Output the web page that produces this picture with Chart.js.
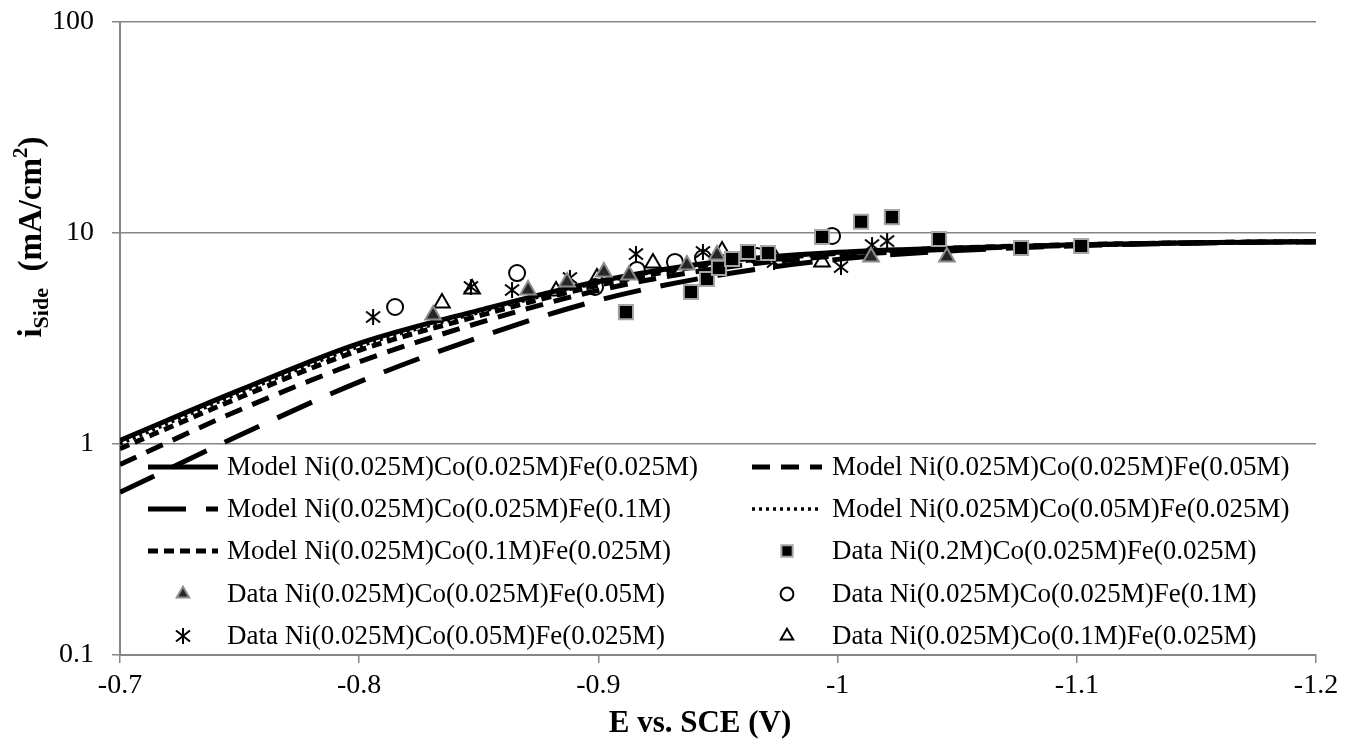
<!DOCTYPE html>
<html>
<head>
<meta charset="utf-8">
<script src="https://cdn.jsdelivr.net/npm/chart.js@4.4.0/dist/chart.umd.min.js"></script>
<style>
  html, body { margin: 0; padding: 0; background: #fff; }
  #grafico { display: block; }
</style>
</head>
<body>
<canvas id="grafico" width="1345" height="742"></canvas>
<script>
// Curvas del modelo (E vs. SCE en V, corriente lateral en mA/cm2)
const ejeModelo = [-0.7, -0.75, -0.8, -0.85, -0.9, -0.95, -1.0, -1.05, -1.1, -1.15, -1.2];
const modeloFe025 = [1.04, 1.80, 3.0, 4.3, 5.9, 7.3, 8.1, 8.5, 8.8, 9.0, 9.1];
const modeloFe05 = [0.80, 1.45, 2.45, 3.75, 5.35, 6.8, 7.8, 8.4, 8.75, 9.0, 9.1];
const modeloFe1 = [0.59, 1.10, 1.97, 3.2, 4.8, 6.3, 7.5, 8.25, 8.7, 8.95, 9.1];
const modeloCo05 = [1.0, 1.74, 2.9, 4.2, 5.8, 7.25, 8.05, 8.5, 8.8, 9.0, 9.1];
const modeloCo1 = [0.95, 1.66, 2.78, 4.05, 5.65, 7.15, 8.0, 8.5, 8.8, 9.0, 9.1];

// Datos experimentales
const ni2E = [-0.9115, -0.9387, -0.9454, -0.9504, -0.9559, -0.9625, -0.9709, -0.9935, -1.0098, -1.0227, -1.0424, -1.0767, -1.1018];
const ni2I = [4.22, 5.25, 6.05, 6.83, 7.53, 8.13, 8.04, 9.57, 11.3, 11.9, 9.37, 8.49, 8.68];
const fe05E = [-0.8309, -0.8706, -0.8869, -0.9023, -0.9128, -0.937, -0.9496, -1.014, -1.0457];
const fe05I = [4.09, 5.37, 5.86, 6.53, 6.32, 7.05, 7.86, 7.70, 7.70];
const fe1E = [-0.815, -0.866, -0.8986, -0.9161, -0.932, -0.9437, -0.9663, -0.9977];
const fe1I = [4.46, 6.46, 5.55, 6.68, 7.29, 7.61, 7.78, 9.68];
const co05E = [-0.8058, -0.8467, -0.8639, -0.8881, -0.9157, -0.9437, -0.9734, -1.0014, -1.0144, -1.0207];
const co05I = [4.0, 5.55, 5.37, 6.12, 7.95, 8.13, 7.29, 6.90, 8.77, 9.16];
const co1E = [-0.8346, -0.8472, -0.8823, -0.8994, -0.9228, -0.9517, -0.9734, -0.9935];
const co1I = [4.66, 5.43, 5.31, 6.12, 7.21, 8.22, 7.78, 7.29];

// Ejes
const marcasX = [-0.7, -0.8, -0.9, -1.0, -1.1, -1.2];
const marcasY = [0.1, 1, 10, 100];
const etiquetasY = ['0.1', '1', '10', '100'];

const FUENTE = "'Liberation Serif', 'Times New Roman', serif";
const GRIS = '#868686';

function puntos(xs, ys) {
  return xs.map((x, i) => ({ x: x, y: ys[i] }));
}

// Marcador asterisco (tipo Excel)
function crearAsterisco() {
  const c = document.createElement('canvas');
  c.width = 20; c.height = 20;
  const g = c.getContext('2d');
  g.strokeStyle = '#000';
  g.lineWidth = 2;
  g.beginPath();
  g.moveTo(10, 2); g.lineTo(10, 18);
  g.moveTo(3, 4.5); g.lineTo(17, 15.5);
  g.moveTo(3, 15.5); g.lineTo(17, 4.5);
  g.stroke();
  return c;
}
const asterisco = crearAsterisco();

function linea(label, ys, dash, ancho, orden) {
  return {
    label: label,
    data: puntos(ejeModelo, ys),
    showLine: true,
    borderColor: '#000',
    backgroundColor: '#000',
    borderWidth: ancho,
    borderDash: dash,
    pointRadius: 0,
    pointHoverRadius: 0,
    cubicInterpolationMode: 'monotone',
    order: orden
  };
}

function marcador(label, xs, ys, estilo, radio, relleno, borde, anchoBorde) {
  return {
    label: label,
    data: puntos(xs, ys),
    showLine: false,
    pointStyle: estilo,
    pointRadius: radio,
    pointHoverRadius: radio,
    backgroundColor: relleno,
    borderColor: borde,
    borderWidth: anchoBorde,
    pointBorderWidth: anchoBorde,
    order: 1
  };
}

const datasets = [
  linea('Model Ni(0.025M)Co(0.025M)Fe(0.025M)', modeloFe025, [], 5, 2),
  linea('Model Ni(0.025M)Co(0.025M)Fe(0.05M)', modeloFe05, [18, 11], 5, 4),
  linea('Model Ni(0.025M)Co(0.025M)Fe(0.1M)', modeloFe1, [38, 20], 5, 5),
  linea('Model Ni(0.025M)Co(0.05M)Fe(0.025M)', modeloCo05, [3, 4], 3.5, 3),
  linea('Model Ni(0.025M)Co(0.1M)Fe(0.025M)', modeloCo1, [10, 6], 5, 3),
  marcador('Data Ni(0.2M)Co(0.025M)Fe(0.025M)', ni2E, ni2I, 'rect', 10, '#000', '#a6a6a6', 2),
  marcador('Data Ni(0.025M)Co(0.025M)Fe(0.05M)', fe05E, fe05I, 'triangle', 9, '#262626', '#8c8c8c', 2),
  marcador('Data Ni(0.025M)Co(0.025M)Fe(0.1M)', fe1E, fe1I, 'circle', 8, 'rgba(0,0,0,0)', '#000', 2),
  marcador('Data Ni(0.025M)Co(0.05M)Fe(0.025M)', co05E, co05I, asterisco, 10, '#000', '#000', 2),
  marcador('Data Ni(0.025M)Co(0.1M)Fe(0.025M)', co1E, co1I, 'triangle', 9, 'rgba(0,0,0,0)', '#000', 2)
];

// Leyenda dentro del area del grafico, en dos columnas
const leyendaManual = {
  id: 'leyendaManual',
  afterDraw(chart) {
    const ctx = chart.ctx;
    const filas = [467, 509, 551, 594, 636];
    const cols = [{ x0: 148, x1: 218, tx: 227 }, { x0: 752, x1: 822, tx: 832 }];
    chart.data.datasets.forEach((ds, i) => {
      const y = filas[Math.floor(i / 2)];
      const col = cols[i % 2];
      ctx.save();
      if (ds.showLine) {
        ctx.strokeStyle = ds.borderColor;
        ctx.lineWidth = ds.borderWidth;
        ctx.setLineDash(ds.borderDash);
        ctx.beginPath();
        ctx.moveTo(col.x0, y);
        ctx.lineTo(col.x1, y);
        ctx.stroke();
      } else {
        ctx.fillStyle = ds.backgroundColor;
        ctx.strokeStyle = ds.borderColor;
        ctx.lineWidth = ds.borderWidth;
        Chart.helpers.drawPoint(ctx, {
          pointStyle: ds.pointStyle,
          radius: ds.pointRadius * 0.8,
          rotation: 0,
          borderWidth: ds.borderWidth
        }, (col.x0 + col.x1) / 2, y);
      }
      ctx.setLineDash([]);
      ctx.fillStyle = '#000';
      ctx.font = '27px ' + FUENTE;
      ctx.textAlign = 'left';
      ctx.textBaseline = 'middle';
      ctx.fillText(ds.label, col.tx, y + 1);
      ctx.restore();
    });
  }
};

// Titulos de los ejes (con subindice y superindice)
const titulosEjes = {
  id: 'titulosEjes',
  afterDraw(chart) {
    const ctx = chart.ctx;
    ctx.save();
    ctx.fillStyle = '#000';
    ctx.font = 'bold 31px ' + FUENTE;
    ctx.textAlign = 'center';
    ctx.textBaseline = 'middle';
    ctx.fillText('E vs. SCE (V)', 700, 724);
    ctx.restore();

    const partes = [
      { t: 'i', f: 33, dy: 0 },
      { t: 'Side', f: 22, dy: 7 },
      { t: '  (mA/cm', f: 33, dy: 0 },
      { t: '2', f: 21, dy: -14 },
      { t: ')', f: 33, dy: 0 }
    ];
    ctx.save();
    ctx.translate(41, 237);
    ctx.rotate(-Math.PI / 2);
    ctx.fillStyle = '#000';
    ctx.textBaseline = 'alphabetic';
    ctx.textAlign = 'left';
    let total = 0;
    partes.forEach(p => { ctx.font = 'bold ' + p.f + 'px ' + FUENTE; total += ctx.measureText(p.t).width; });
    let x = -total / 2;
    partes.forEach(p => {
      ctx.font = 'bold ' + p.f + 'px ' + FUENTE;
      ctx.fillText(p.t, x, p.dy);
      x += ctx.measureText(p.t).width;
    });
    ctx.restore();
  }
};

new Chart(document.getElementById('grafico'), {
  type: 'scatter',
  data: { datasets: datasets },
  options: {
    responsive: false,
    animation: false,
    devicePixelRatio: 1,
    events: [],
    layout: { padding: { left: 0, right: 29, top: 22, bottom: 0 } },
    plugins: {
      legend: { display: false },
      tooltip: { enabled: false },
      title: { display: false }
    },
    scales: {
      x: {
        type: 'linear',
        reverse: true,
        min: -1.2,
        max: -0.7,
        afterBuildTicks: s => { s.ticks = marcasX.map(v => ({ value: v })); },
        afterFit: s => { s.height = 87; s.paddingLeft = 0; s.paddingRight = 0; },
        ticks: {
          autoSkip: false,
          maxRotation: 0,
          padding: 6,
          color: '#000',
          font: { family: FUENTE, size: 28 },
          callback: v => String(Math.round(v * 10) / 10)
        },
        grid: { drawOnChartArea: false, drawTicks: true, tickLength: 8, color: GRIS, lineWidth: 1.5 },
        border: { display: true, color: GRIS, width: 2 }
      },
      y: {
        type: 'logarithmic',
        min: 0.1,
        max: 100,
        afterBuildTicks: s => { s.ticks = marcasY.map(v => ({ value: v })); },
        afterFit: s => { s.width = 120; s.paddingTop = 0; s.paddingBottom = 0; },
        ticks: {
          padding: 18,
          color: '#000',
          font: { family: FUENTE, size: 28 },
          callback: v => etiquetasY[marcasY.indexOf(v)] !== undefined ? etiquetasY[marcasY.indexOf(v)] : String(v)
        },
        grid: { color: GRIS, lineWidth: 1.5, drawTicks: true, tickLength: 8 },
        border: { display: true, color: GRIS, width: 2 }
      }
    }
  },
  plugins: [leyendaManual, titulosEjes]
});
</script>
</body>
</html>
